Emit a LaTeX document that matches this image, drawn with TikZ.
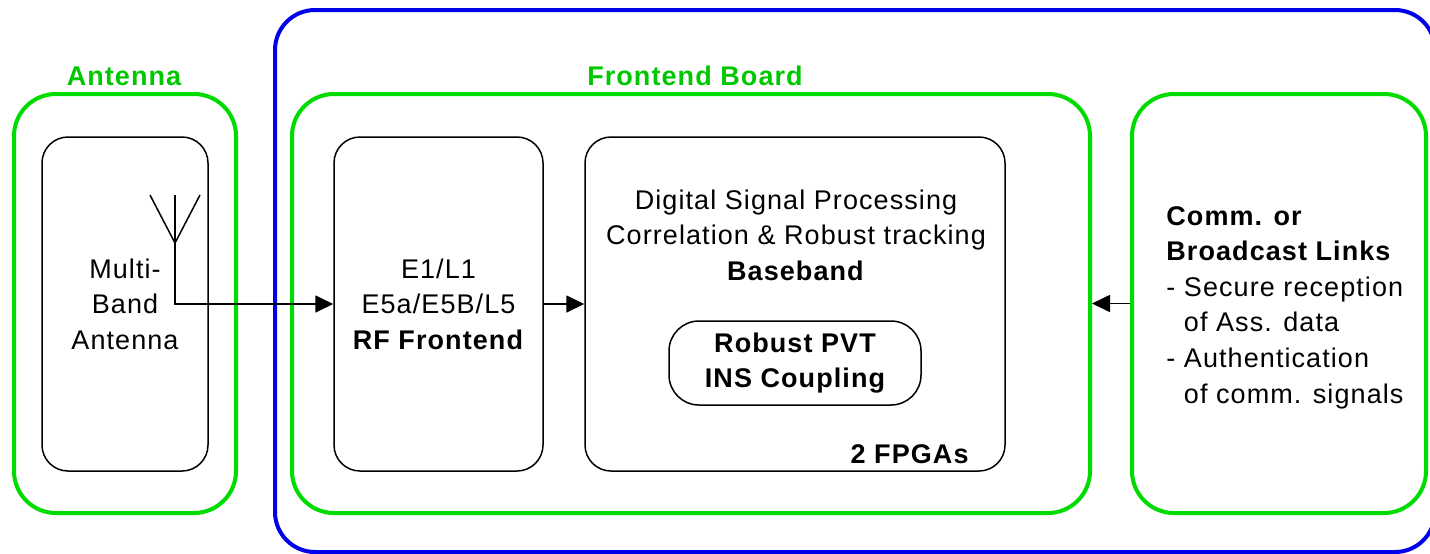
\documentclass[tikz,border=0pt]{standalone}
\usepackage{fontspec}
\setmainfont[LetterSpace=4]{Liberation Sans}
\usetikzlibrary{arrows.meta}
\definecolor{boxgreen}{RGB}{0,220,0}
\definecolor{labgreen}{RGB}{0,200,0}
\definecolor{boxblue}{RGB}{0,0,235}
\begin{document}
\begin{tikzpicture}[x=0.5pt,y=-0.5pt,
  every node/.style={font=\fontsize{13.5}{17.8}\selectfont, inner sep=0pt},
  greenbox/.style={draw=boxgreen, line width=2pt, rounded corners=21pt},
  blackbox/.style={draw=black, line width=0.75pt, rounded corners=13pt, align=center},
  grouplabel/.style={text=labgreen, font=\fontsize{13.5}{17.8}\selectfont\bfseries},
  conn/.style={line width=0.85pt, -{Triangle[length=9pt,width=8.5pt]}},
  plain/.style={line width=0.75pt}]
\useasboundingbox (0,0) rectangle (1430,553);
% outer blue board
\draw[draw=boxblue, line width=2pt, rounded corners=20pt] (275,10) rectangle (1435,552);
% green groups
\node[greenbox, minimum width=111pt, minimum height=209.5pt] (antG) at (125,303.5) {};
\node[greenbox, minimum width=399pt, minimum height=209.5pt] (feG) at (691,303.5) {};
\node[greenbox, minimum width=147pt, minimum height=209.5pt] (comG) at (1279,303.5) {};
\node[grouplabel] (antL) at (124,76) {Antenna};
\node[grouplabel] (feL) at (695,76) {Frontend Board};
% black boxes
\node[blackbox, minimum width=83pt, minimum height=167pt] (antB) at (125,304) {Multi-\\Band\\Antenna};
\node[blackbox, minimum width=104.5pt, minimum height=167pt] (rfB) at (438.5,304) {E1/L1\\E5a/E5B/L5\\\textbf{RF Frontend}};
\node[blackbox, minimum width=210pt, minimum height=167pt] (bbB) at (795,304) {};
\node[align=center] (bbT) at (796,235) {Digital Signal Processing\\Correlation \& Robust tracking\\\textbf{Baseband}};
\node[blackbox, rounded corners=15pt, minimum width=126pt, minimum height=42pt, font=\fontsize{13.5}{17.8}\selectfont\bfseries] (pvt) at (795,363) {Robust PVT\\INS Coupling};
\node[anchor=east, font=\fontsize{13.5}{17.8}\selectfont\bfseries] (fpga) at (969,454) {2 FPGAs};
% comm text
\node[anchor=west, align=left] (comT) at (1166,307.5) {\textbf{Comm. or}\\\textbf{Broadcast Links}\\- Secure reception\\\hphantom{- }of Ass. data\\- Authentication\\\hphantom{- }of comm. signals};
% antenna symbol
\coordinate (antTop) at (175,195);
\coordinate (antJ) at (175,243);
\draw[plain] (150,195) -- (antJ) -- (200,195);
\draw[conn] (antTop) -- (antTop |- rfB.west) -- (rfB.west);
% connectors
\draw[conn] (rfB.east) -- (bbB.west);
\draw[conn] (comG.west) -- (feG.east);
\end{tikzpicture}
\end{document}
